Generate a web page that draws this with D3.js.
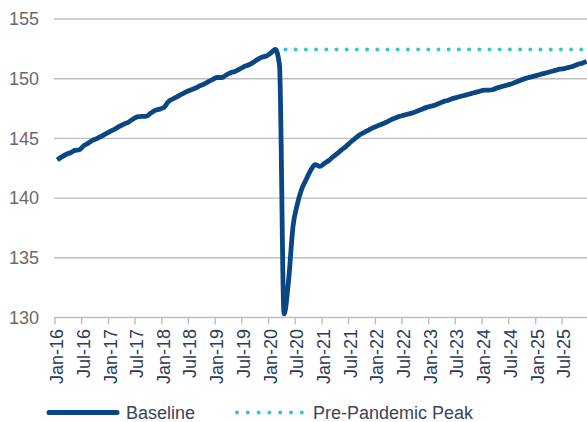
<!DOCTYPE html>
<html>
<head>
<meta charset="utf-8">
<script src="https://cdn.jsdelivr.net/npm/d3@7"></script>
<style>
  body { margin: 0; background: white; }
  text { font-family: "Liberation Sans", Arial, sans-serif; }
</style>
</head>
<body>
<div id="chart"></div>
<script>

// monthly values, Jan-16 .. Dec-25 (millions)
const baseline = [
  143.2, 143.45, 143.65, 143.8, 144.0, 144.05, 144.4, 144.6, 144.85, 145.0, 145.2, 145.4,
  145.6, 145.8, 146.0, 146.2, 146.35, 146.6, 146.8, 146.85, 146.85, 147.1, 147.35, 147.45,
  147.6, 148.1, 148.3, 148.5, 148.7, 148.9, 149.05, 149.2, 149.4, 149.55, 149.75, 149.95,
  150.1, 150.1, 150.3, 150.5, 150.6, 150.8, 151.0, 151.15, 151.35, 151.6, 151.8, 151.9,
  152.15, 152.45, 151.1, 130.3, 133.0, 137.6, 139.5, 140.8, 141.6, 142.35, 142.8, 142.65,
  142.9, 143.15, 143.45, 143.75, 144.05, 144.35, 144.7, 145.0, 145.3, 145.5, 145.7, 145.9,
  146.05, 146.2, 146.35, 146.55, 146.7, 146.85, 146.95, 147.05, 147.15, 147.3, 147.45, 147.6,
  147.7, 147.8, 147.95, 148.1, 148.2, 148.35, 148.45, 148.55, 148.65, 148.75, 148.85, 148.95,
  149.05, 149.05, 149.1, 149.25, 149.35, 149.45, 149.55, 149.7, 149.85, 150.0, 150.1, 150.2,
  150.3, 150.4, 150.5, 150.6, 150.7, 150.8, 150.85, 150.95, 151.05, 151.2, 151.3, 151.45
];
const peakValue = 152.45;
const firstMonth = "Jan-16";
const endMonth = "Jan-26";
const peakMonth = "Feb-20";

const yTicks = [130, 135, 140, 145, 150, 155];
const xTickLabels = [
  "Jan-16", "Jul-16", "Jan-17", "Jul-17", "Jan-18", "Jul-18", "Jan-19", "Jul-19", "Jan-20", "Jul-20",
  "Jan-21", "Jul-21", "Jan-22", "Jul-22", "Jan-23", "Jul-23", "Jan-24", "Jul-24", "Jan-25", "Jul-25"
];
const seriesNames = ["Baseline", "Pre-Pandemic Peak"];

//SVG
const width = 587;
const height = 422;
const plot = {l: 55, r: 589, t: 19, b: 317.5};

const svg = d3.select("#chart")
    .append("svg")
    .attr("width", width)
    .attr("height", height)
    .attr("viewBox", [0, 0, width, height])
    .style("background-color", "white")
    .style("display", "block");

const parseMonth = d3.timeParse("%b-%y");
const months = d3.timeMonth.range(parseMonth(firstMonth), parseMonth(endMonth));
const mid = d => d3.timeDay.offset(d, 15);

const x = d3.scaleTime()
    .domain([parseMonth(firstMonth), parseMonth(endMonth)])
    .range([plot.l, plot.r]);

const y = d3.scaleLinear()
    .domain([130, 155])
    .range([plot.b, plot.t]);

const navy = "#0a4682";
const teal = "#35c6ca";

// gridlines
svg.append("g")
    .selectAll("line")
    .data(yTicks)
    .join("line")
    .attr("x1", plot.l - 1)
    .attr("x2", width)
    .attr("y1", d => y(d))
    .attr("y2", d => y(d))
    .attr("stroke", "#bdbdbd")
    .attr("stroke-width", 1.4);

// y labels
svg.append("g")
    .selectAll("text")
    .data(yTicks)
    .join("text")
    .attr("x", 39)
    .attr("y", d => y(d))
    .attr("dy", "0.35em")
    .attr("text-anchor", "end")
    .attr("font-size", "18px")
    .attr("fill", "#6a6a6a")
    .text(d => d);

// x ticks + labels
const xg = svg.append("g")
    .selectAll("g")
    .data(xTickLabels)
    .join("g")
    .attr("transform", d => `translate(${x(parseMonth(d))},0)`);

xg.append("line")
    .attr("y1", plot.b)
    .attr("y2", plot.b + 7)
    .attr("stroke", "#bdbdbd")
    .attr("stroke-width", 1.4);

xg.append("text")
    .attr("transform", "translate(0,329) rotate(-90)")
    .attr("y", 8)
    .attr("text-anchor", "end")
    .attr("font-size", "18px")
    .attr("fill", "#2c3b55")
    .text(d => d);

// series
const line = d3.line()
    .x(d => x(mid(d.date)))
    .y(d => y(d.value))
    .curve(d3.curveMonotoneX);

const baseData = baseline.map((v, i) => ({date: months[i], value: v}));
const peakData = months
    .filter(m => m >= parseMonth(peakMonth))
    .map(m => ({date: m, value: peakValue}));

svg.append("path")
    .datum(peakData)
    .attr("d", line)
    .attr("fill", "none")
    .attr("stroke", teal)
    .attr("stroke-width", 4)
    .attr("stroke-linecap", "round")
    .attr("stroke-dasharray", "0 10.2");

svg.append("path")
    .datum(baseData)
    .attr("d", line)
    .attr("fill", "none")
    .attr("stroke", navy)
    .attr("stroke-width", 4.8)
    .attr("stroke-linejoin", "round");

// legend
const legend = svg.append("g").attr("class", "legend");

legend.append("line")
    .attr("x1", 49).attr("x2", 117)
    .attr("y1", 412.5).attr("y2", 412.5)
    .attr("stroke", navy)
    .attr("stroke-width", 5)
    .attr("stroke-linecap", "round");

legend.append("text")
    .attr("x", 126)
    .attr("y", 418.5)
    .attr("font-size", "18px")
    .attr("fill", "#3a4458")
    .text(seriesNames[0]);

legend.append("line")
    .attr("x1", 237).attr("x2", 302)
    .attr("y1", 412.5).attr("y2", 412.5)
    .attr("stroke", teal)
    .attr("stroke-width", 4)
    .attr("stroke-linecap", "round")
    .attr("stroke-dasharray", "0 10.8");

legend.append("text")
    .attr("x", 313)
    .attr("y", 418.5)
    .attr("font-size", "18px")
    .attr("fill", "#3a4458")
    .text(seriesNames[1]);

</script>
</body>
</html>
